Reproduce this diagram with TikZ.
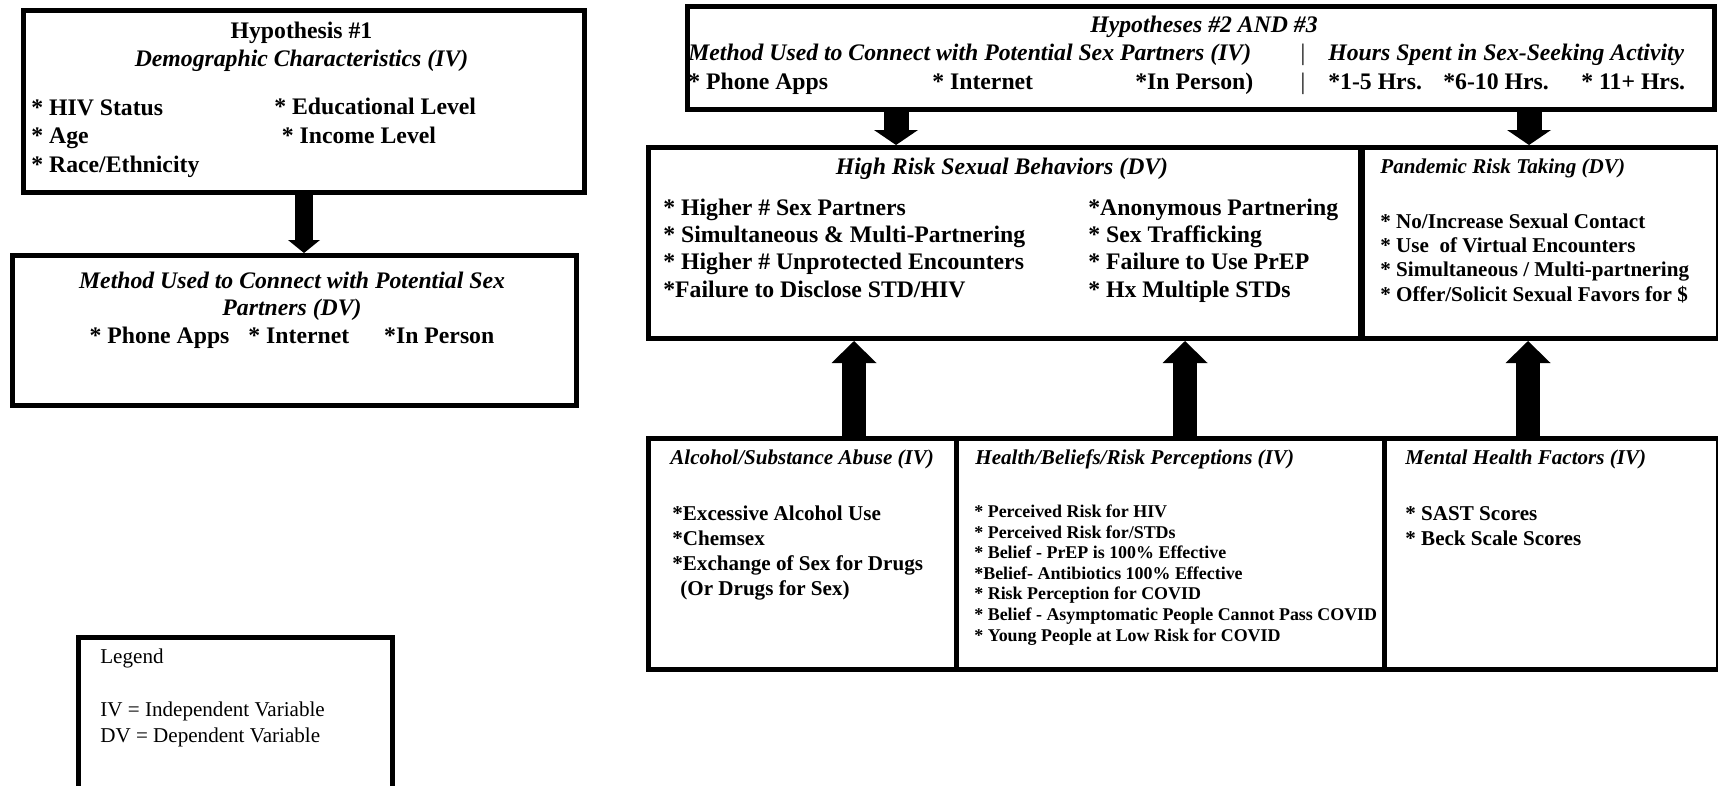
\documentclass[tikz,border=0pt]{standalone}
\usepackage{fontspec}
\setmainfont{Liberation Serif}
\usetikzlibrary{
  arrows.meta,
  positioning,  % Function "of"
  calc,         % Calculations $...$
}
\newcommand{\bigtxt}  [1]{\fontsize{13.5}{#1}\selectfont\bfseries}
\newcommand{\midtxt}  [1]{\fontsize{12}{#1}\selectfont\bfseries}
\newcommand{\smltxt}{\fontsize{10.2}{11.7}\selectfont\bfseries}
\def\myboxlw{1mm}
\tikzset{
  my box/.style={
    draw,
    line width=\myboxlw,
    inner sep=0mm,
    anchor=north west
  },
  % base anchor = baseline of the last line
  my text/.style={
    inner sep=0mm,
    align=left,
    anchor=base west
  },
  my title/.style={
    inner sep=0mm,
    align=center,
    anchor=base
  },
  down arrow/.style={
    line width=5mm,
    -{Triangle[width=8.8mm,length=3mm,line width=0pt]}
  },
  up arrow/.style={
    line width=4.8mm,
    -{Triangle[width=9mm,length=4.4mm,line width=0pt]}
  },
  small arrow/.style={
    line width=3.6mm,
    -{Triangle[width=6.4mm,length=2.6mm,line width=0pt]}
  }
}

\begin{document}
\begin{tikzpicture}
\useasboundingbox (0,0) rectangle (34.36,-15.70);
% Hypothesis 1
\node[my box,minimum width=11.22cm,minimum height=3.64cm] (h1) at (0.42,-0.16) {};
\node[my title,font={\bigtxt{16.2}}] (h1head) at (6.03,-1.33)
  {Hypothesis \#1\\\textit{Demographic Characteristics (IV)}};
\node[my text,font={\bigtxt{16.2}}] (h1left) at (0.62,-3.44)
  {* HIV Status\\* Age\\* Race/Ethnicity};
\node[my text,font={\bigtxt{16.2}}] (h1right) at (5.48,-2.86)
  {* Educational Level\\\hspace*{1.5mm}* Income Level};
% Method (DV)
\node[my box,minimum width=11.28cm,minimum height=3.00cm] (mth) at (0.20,-5.06) {};
\node[my title,font={\bigtxt{15.6}}] (mthtext) at (5.84,-6.86)
  {\textit{Method Used to Connect with Potential Sex}\\\textit{Partners (DV)}\\
   * Phone Apps\hspace{3.8mm}* Internet\hspace{7mm}*In Person};
\draw[small arrow] (h1.south) -- (h1.south |- mth.north);
% Legend
\node[my box,minimum width=6.28cm,minimum height=3.06cm] (leg) at (1.52,-12.70) {};
\node[my text,font=\fontsize{12}{14.8}\selectfont] (legtext) at (2.00,-14.84)
  {Legend\\[14.8pt]IV = Independent Variable\\DV = Dependent Variable};
% Hypotheses 2 and 3
\node[my box,minimum width=20.54cm,minimum height=2.06cm] (h2) at (13.70,-0.08) {};
\node[my title,font={\bigtxt{16.2}\itshape}] (h2head) at (24.08,-0.64)
  {Hypotheses \#2 AND \#3};
\node[my text,font={\bigtxt{16.2}}] (h2left) at (13.76,-1.78)
  {\textit{Method Used to Connect with Potential Sex Partners (IV)}\\
   \makebox[4.88cm][l]{* Phone Apps}\makebox[4.06cm][l]{* Internet}*In Person)};
\node[my title,font=\fontsize{13.5}{16.2}\selectfont] (h2bar) at (26.06,-1.78) {|\\|};
\node[my text,font={\bigtxt{16.2}}] (h2right) at (26.56,-1.78)
  {\textit{Hours Spent in Sex-Seeking Activity}\\
   \makebox[2.3cm][l]{*1-5 Hrs.}\makebox[2.76cm][l]{*6-10 Hrs.}* 11+ Hrs.};
% High risk sexual behaviors (DV)
\node[my box,minimum width=14.24cm,minimum height=3.82cm] (hrsb) at (12.92,-2.90) {};
\node[my title,font={\bigtxt{15.5}\itshape}] (hrsbhead) at (20.04,-3.48)
  {High Risk Sexual Behaviors (DV)};
\node[my text,font={\bigtxt{15.5}}] (hrsbleft) at (13.26,-5.94)
  {* Higher \# Sex Partners\\* Simultaneous \& Multi-Partnering\\
   * Higher \# Unprotected Encounters\\*Failure to Disclose STD/HIV};
\node[my text,font={\bigtxt{15.5}}] (hrsbright) at (21.76,-5.94)
  {*Anonymous Partnering\\* Sex Trafficking\\* Failure to Use PrEP\\* Hx Multiple STDs};
% Pandemic risk taking (DV)
\node[my box,minimum width=7.12cm,minimum height=3.82cm] (pand) at (27.20,-2.90) {};
\node[my text,font={\midtxt{13.8}\itshape}] (pandhead) at (27.60,-3.47)
  {Pandemic Risk Taking (DV)};
\node[my text,font={\midtxt{13.8}}] (panditems) at (27.60,-6.02)
  {* No/Increase Sexual Contact\\* Use\ \ of Virtual Encounters\\
   * Simultaneous / Multi-partnering\\* Offer/Solicit Sexual Favors for \$};
\coordinate (dn1) at (17.92,0);
\coordinate (dn2) at (30.58,0);
\draw[down arrow] (h2.south -| dn1) -- (hrsb.north -| dn1);
\draw[down arrow] (h2.south -| dn2) -- (pand.north -| dn2);
% Alcohol/substance abuse (IV)
\node[my box,minimum width=6.16cm,minimum height=4.62cm] (alc) at (12.92,-8.72) {};
\node[my text,font={\midtxt{14.2}\itshape}] (alchead) at (13.40,-9.29)
  {Alcohol/Substance Abuse (IV)};
\node[my text,font={\midtxt{14.2}}] (alcitems) at (13.44,-11.90)
  {*Excessive Alcohol Use\\*Chemsex\\*Exchange of Sex for Drugs\\\hspace*{1.6mm}(Or Drugs for Sex)};
% Health/beliefs/risk perceptions (IV)
\node[my box,minimum width=8.56cm,minimum height=4.62cm] (hlth) at (19.08,-8.72) {};
\node[my text,font={\midtxt{14.2}\itshape}] (hlthhead) at (19.50,-9.29)
  {Health/Beliefs/Risk Perceptions (IV)};
\node[my text,font=\smltxt] (hlthitems) at (19.48,-12.82)
  {* Perceived Risk for HIV\\* Perceived Risk for/STDs\\* Belief - PrEP is 100\% Effective\\
   *Belief- Antibiotics 100\% Effective\\* Risk Perception for COVID\\
   * Belief - Asymptomatic People Cannot Pass COVID\\* Young People at Low Risk for COVID};
% Mental health factors (IV)
\node[my box,minimum width=6.68cm,minimum height=4.62cm] (ment) at (27.64,-8.72) {};
\node[my text,font={\midtxt{14.2}\itshape}] (menthead) at (28.10,-9.29)
  {Mental Health Factors (IV)};
\node[my text,font={\midtxt{14.2}}] (mentitems) at (28.10,-10.90)
  {* SAST Scores\\* Beck Scale Scores};
\coordinate (up1) at (17.08,0);
\coordinate (up2) at (23.70,0);
\coordinate (up3) at (30.56,0);
\draw[up arrow] (alc.north -| up1) -- (hrsb.south -| up1);
\draw[up arrow] (hlth.north -| up2) -- (hrsb.south -| up2);
\draw[up arrow] (ment.north -| up3) -- (pand.south -| up3);
\end{tikzpicture}
\end{document}
